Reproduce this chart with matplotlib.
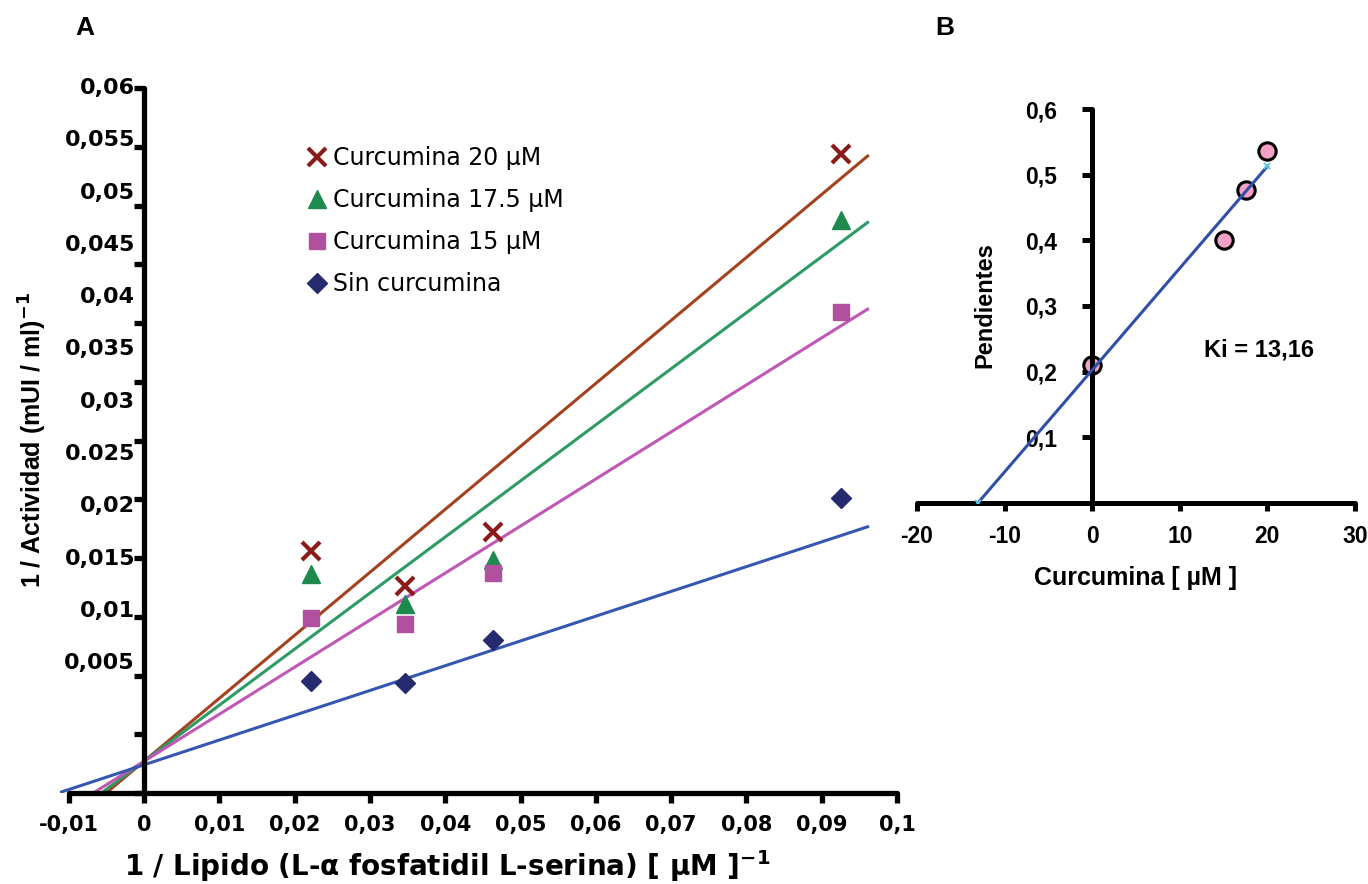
import numpy as np
import matplotlib.pyplot as plt

# Panel A: Lineweaver-Burk data
inv_lipido = [0.0222, 0.0347, 0.0463, 0.0926]
act_20 = [0.0206, 0.0176, 0.0222, 0.0544]
act_175 = [0.0186, 0.0161, 0.0198, 0.0488]
act_15 = [0.0149, 0.0144, 0.0187, 0.0409]
act_sin = [0.0095, 0.0094, 0.0130, 0.0251]
labels_a = ['Curcumina 20 µM', 'Curcumina 17.5 µM', 'Curcumina 15 µM', 'Sin curcumina']

# Panel B: secondary plot (slopes vs curcumin)
curcumina = [0, 15, 17.5, 20]
pendientes = [0.2108, 0.4004, 0.4772, 0.536]
intercepts_a = [0.0024, 0.0027, 0.0027, 0.0027]  # sin, 15, 17.5, 20

xticks_a = [-0.01, 0, 0.01, 0.02, 0.03, 0.04, 0.05, 0.06, 0.07, 0.08, 0.09, 0.1]
xticklabels_a = ['-0,01', '0', '0,01', '0,02', '0,03', '0,04', '0,05', '0,06',
                 '0,07', '0,08', '0,09', '0,1']
yticks_a = [0.005, 0.01, 0.015, 0.02, 0.025, 0.03, 0.035, 0.04, 0.045, 0.05, 0.055, 0.06]
yticklabels_a = ['0,005', '0,01', '0,015', '0,02', '0.025', '0,03', '0,035', '0,04',
                 '0,045', '0,05', '0,055', '0,06']

fig = plt.figure(figsize=(13.68, 8.84), dpi=100)

# ---------------- Panel A ----------------
ax = fig.add_axes([59.7 / 1368, 91 / 884, 837.3 / 1368, 705 / 884])
ax.set_xlim(-0.0112, 0.1)
ax.set_ylim(0, 0.06)

series = [
    (act_20, pendientes[3], intercepts_a[3], 'x', '#8B1A1A', '#A3421E', 13),
    (act_175, pendientes[2], intercepts_a[2], '^', '#1E8A4E', '#2E9A64', 13),
    (act_15, pendientes[1], intercepts_a[1], 's', '#B0509E', '#C057B4', 12),
    (act_sin, pendientes[0], intercepts_a[0], 'D', '#262A6E', '#3557B0', 10),
]
xl = np.array([-0.0115, 0.0961])
for (vals, m, b, mk, mc, lc, ms), lab in zip(series, labels_a):
    ax.plot(xl, m * xl + b, color=lc, lw=2.2, zorder=2)
for (vals, m, b, mk, mc, lc, ms), lab in zip(series, labels_a):
    if mk == 'x':
        ax.plot(inv_lipido, vals, ls='none', marker=mk, ms=ms, mew=3, color=mc,
                label=lab, zorder=3)
    else:
        ax.plot(inv_lipido, vals, ls='none', marker=mk, ms=ms, color=mc,
                mec=mc, mew=1, label=lab, zorder=3)

for s in ['top', 'right']:
    ax.spines[s].set_visible(False)
ax.spines['left'].set_position(('data', 0))
ax.spines['bottom'].set_bounds(-0.01, 0.1)
for s in ['left', 'bottom']:
    ax.spines[s].set_linewidth(3.8)
    ax.spines[s].set_capstyle('round')
ax.set_xticks(xticks_a)
ax.set_xticklabels(xticklabels_a, fontsize=15, fontweight='bold')
ax.set_yticks([0] + yticks_a)
ax.set_yticklabels([])
ax.tick_params(axis='both', direction='out', length=7, width=3.8, pad=9)
for t in ax.xaxis.get_major_ticks() + ax.yaxis.get_major_ticks():
    t.tick1line.set_solid_capstyle('round')

# y tick labels sit compressed relative to the ticks in the original
for v, lab in zip(yticks_a, yticklabels_a):
    ypos = 0.06 - (0.06 - v) * 0.89
    ax.text(-0.0012, ypos, lab, ha='right', va='center', fontsize=16,
            fontweight='bold', clip_on=False)

leg = ax.legend(loc='upper left', bbox_to_anchor=(306 / 1368, 1 - 146 / 884),
                bbox_transform=fig.transFigure, frameon=False, fontsize=17,
                handlelength=0.9, handletextpad=0.25, labelspacing=0.76,
                borderpad=0, borderaxespad=0)

fig.text(33 / 1368, 1 - 440 / 884, r'1 / Actividad (mUI / ml)$^{\mathbf{-1}}$',
         rotation=90, ha='center', va='center', fontsize=18, fontweight='bold',
         family='Liberation Sans')
fig.text(447 / 1368, 1 - 866 / 884,
         r'1 / Lipido (L-α fosfatidil L-serina) [ µM ]$^{\mathbf{-1}}$',
         ha='center', va='center', fontsize=20, fontweight='bold')
fig.text(85 / 1368, 1 - 28 / 884, 'A', ha='center', va='center', fontsize=19,
         fontweight='bold', family='Liberation Sans')

# ---------------- Panel B ----------------
bx = fig.add_axes([917 / 1368, (884 - 503) / 884, 438 / 1368, 394 / 884])
bx.set_xlim(-20, 30)
bx.set_ylim(0, 0.6)

m, b = np.polyfit(curcumina, pendientes, 1)
x0 = -b / m
xf = np.array([x0, max(curcumina)])
bx.plot(curcumina, pendientes, ls='none', marker='o', ms=12.5, mfc='#F3A0C6',
        mec='black', mew=2.2, zorder=2)
bx.plot(xf, m * xf + b, color='#2F4FA8', lw=2.2, zorder=3)
bx.plot(xf, m * xf + b, ls='none', marker='x', ms=5, mew=1.3, color='#5BC8E6',
        zorder=4)

for s in ['top', 'right']:
    bx.spines[s].set_visible(False)
bx.spines['left'].set_position(('data', 0))
for s in ['left', 'bottom']:
    bx.spines[s].set_linewidth(3.6)
    bx.spines[s].set_capstyle('round')
bx.set_xticks([-20, -10, 0, 10, 20, 30])
bx.set_xticklabels(['-20', '-10', '0', '10', '20', '30'], fontsize=16.5,
                   fontweight='bold', family='Liberation Sans')
bx.set_yticks([0, 0.1, 0.2, 0.3, 0.4, 0.5, 0.6])
bx.set_yticklabels(['', '0,1', '0,2', '0,3', '0,4', '0,5', '0,6'], fontsize=16.5,
                   fontweight='bold', family='Liberation Sans')
bx.tick_params(axis='x', direction='out', length=6, width=3.6, pad=10)
bx.tick_params(axis='y', direction='out', length=7, width=3.6, pad=18)
for t in bx.xaxis.get_major_ticks() + bx.yaxis.get_major_ticks():
    t.tick1line.set_solid_capstyle('round')

bx.text(12.8, 0.233, 'Ki = 13,16', ha='left', va='center', fontsize=17,
        fontweight='bold', family='Liberation Sans')
fig.text(985 / 1368, 1 - 305 / 884, 'Pendientes', rotation=90, ha='center',
         va='center', fontsize=17, fontweight='bold', family='Liberation Sans')
fig.text(1136 / 1368, 1 - 578 / 884, 'Curcumina [ µM ]', ha='center', va='center',
         fontsize=18, fontweight='bold', family='Liberation Sans')
fig.text(945 / 1368, 1 - 28 / 884, 'B', ha='center', va='center', fontsize=19,
         fontweight='bold', family='Liberation Sans')

fig.savefig('out.png', dpi=100)
